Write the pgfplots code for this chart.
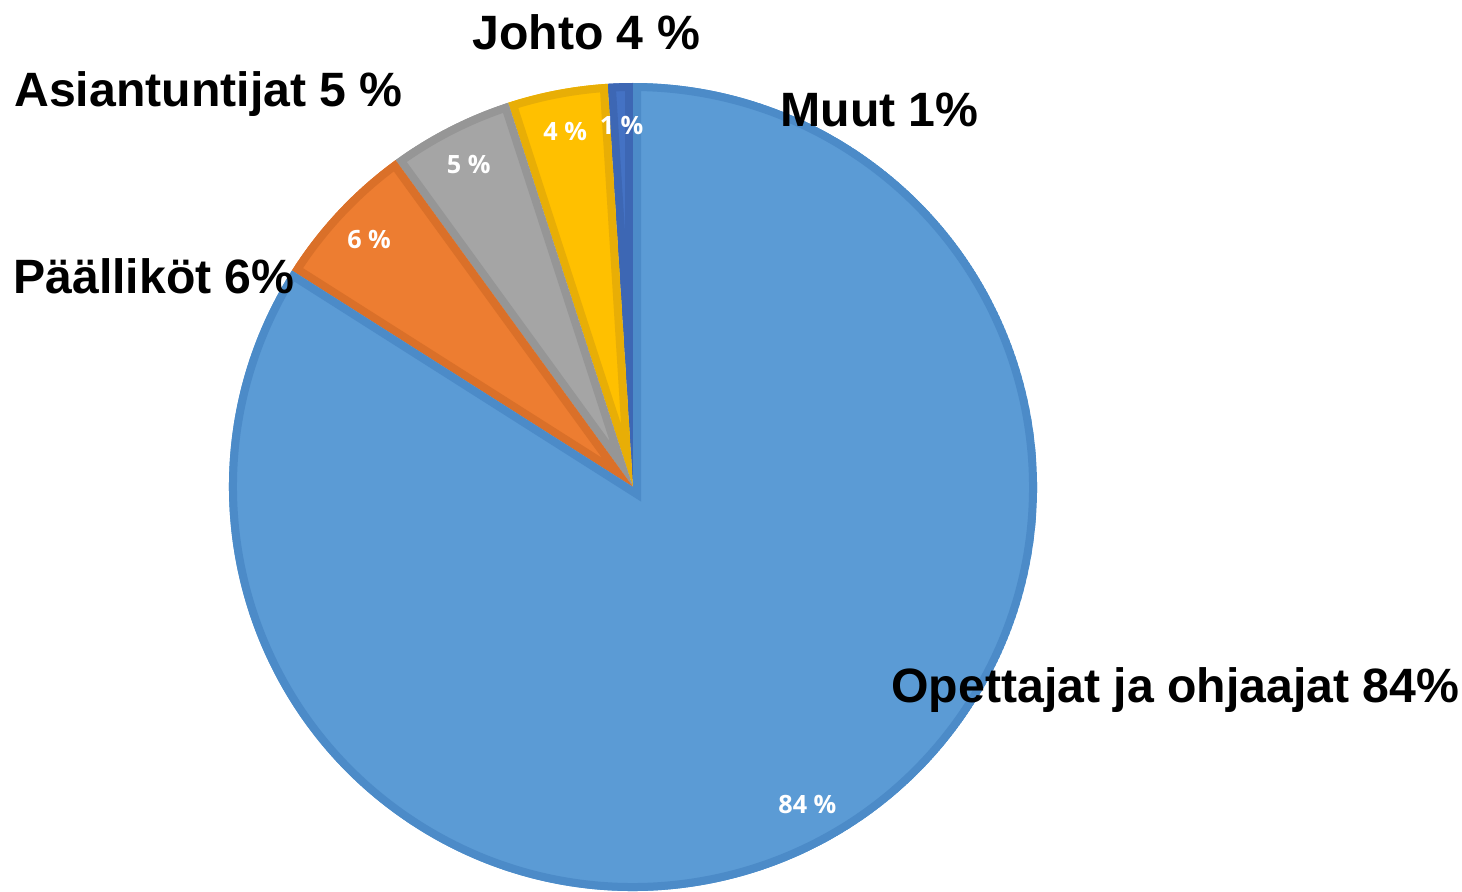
\documentclass[border=0pt]{standalone}
\usepackage{pgfplots}
\usepackage{pgfplotstable}
\pgfplotsset{compat=1.18}
\usetikzlibrary{calc}
\usepackage{fontspec}
\setmainfont{Liberation Sans}
\newfontfamily\innerfont{Open Sans}

\definecolor{fBlue}{HTML}{5B9BD5}\definecolor{dBlue}{HTML}{4C8BC8}
\definecolor{fOrange}{HTML}{ED7D31}\definecolor{dOrange}{HTML}{DA7029}
\definecolor{fGray}{HTML}{A5A5A5}\definecolor{dGray}{HTML}{969696}
\definecolor{fGold}{HTML}{FFC000}\definecolor{dGold}{HTML}{E8AE06}
\definecolor{fNavy}{HTML}{4472C4}\definecolor{dNavy}{HTML}{3D67B4}

% slices counter-clockwise from 12 o'clock; lx/ly = outer label baseline (px, from top-left)
\pgfplotstableread[col sep=comma]{
name,value,fc,dc,inner,lx,ly
Muut 1\%,1,fNavy,dNavy,1 \%,780,127
Johto 4 \%,4,fGold,dGold,4 \%,472,50
Asiantuntijat 5 \%,5,fGray,dGray,5 \%,14,107
Päälliköt 6\%,6,fOrange,dOrange,6 \%,13,294
Opettajat ja ohjaajat 84\%,84,fBlue,dBlue,84 \%,891,702
}\piedata

\def\pieR{202pt}% 404 px
\def\pieCum{90}
\pgfplotsforeachungrouped \i in {0,...,4}{%
  \pgfplotstablegetelem{\i}{value}\of\piedata
  \pgfmathsetmacro\pieStop{\pieCum+3.6*\pgfplotsretval}
  \expandafter\xdef\csname pieA\i\endcsname{\pieCum}
  \expandafter\xdef\csname pieB\i\endcsname{\pieStop}
  \pgfmathsetmacro\pieMid{(\pieCum+\pieStop)/2}
  \expandafter\xdef\csname pieM\i\endcsname{\pieMid}
  \global\let\pieCum\pieStop
  \pgfplotstablegetelem{\i}{fc}\of\piedata
  \expandafter\xdef\csname pieF\i\endcsname{\pgfplotsretval}
  \pgfplotstablegetelem{\i}{dc}\of\piedata
  \expandafter\xdef\csname pieD\i\endcsname{\pgfplotsretval}
  \pgfplotstablegetelem{\i}{inner}\of\piedata
  \expandafter\xdef\csname pieI\i\endcsname{\pgfplotsretval}
  \pgfplotstablegetelem{\i}{name}\of\piedata
  \expandafter\xdef\csname pieN\i\endcsname{\pgfplotsretval}
  \pgfplotstablegetelem{\i}{lx}\of\piedata
  \expandafter\xdef\csname pieX\i\endcsname{\pgfplotsretval}
  \pgfplotstablegetelem{\i}{ly}\of\piedata
  \pgfmathsetmacro\pieY{891-\pgfplotsretval}
  \expandafter\xdef\csname pieY\i\endcsname{\pieY}
}

\begin{document}
\begin{tikzpicture}
\begin{axis}[
  x=0.5pt, y=0.5pt,
  xmin=0, xmax=1462, ymin=0, ymax=891,
  hide axis, clip=false,
]
\path (axis cs:0,0) rectangle (axis cs:1462,891);
\pgfplotsinvokeforeach{0,...,4}{
  \begin{scope}[overlay]
    \clip (axis cs:633,404) -- ++(\csname pieA#1\endcsname:\pieR)
      arc[start angle=\csname pieA#1\endcsname, end angle=\csname pieB#1\endcsname, radius=\pieR] -- cycle;
    \fill[\csname pieF#1\endcsname] (axis cs:633,404) -- ++(\csname pieA#1\endcsname:\pieR)
      arc[start angle=\csname pieA#1\endcsname, end angle=\csname pieB#1\endcsname, radius=\pieR] -- cycle;
    \draw[\csname pieD#1\endcsname, line width=8pt, line join=miter] (axis cs:633,404) -- ++(\csname pieA#1\endcsname:\pieR)
      arc[start angle=\csname pieA#1\endcsname, end angle=\csname pieB#1\endcsname, radius=\pieR] -- cycle;
  \end{scope}
}
\pgfplotsinvokeforeach{0,...,4}{
  \node[white, font=\innerfont\bfseries\fontsize{12.6}{14}\selectfont, inner sep=0pt]
    at ($(axis cs:633,404)+(\csname pieM#1\endcsname:181pt)$) {\csname pieI#1\endcsname};
  \node[anchor=base west, inner sep=0pt, font=\bfseries\fontsize{24.1}{28}\selectfont]
    at (axis cs:\csname pieX#1\endcsname,\csname pieY#1\endcsname) {\csname pieN#1\endcsname};
}
\end{axis}
\end{tikzpicture}
\end{document}
